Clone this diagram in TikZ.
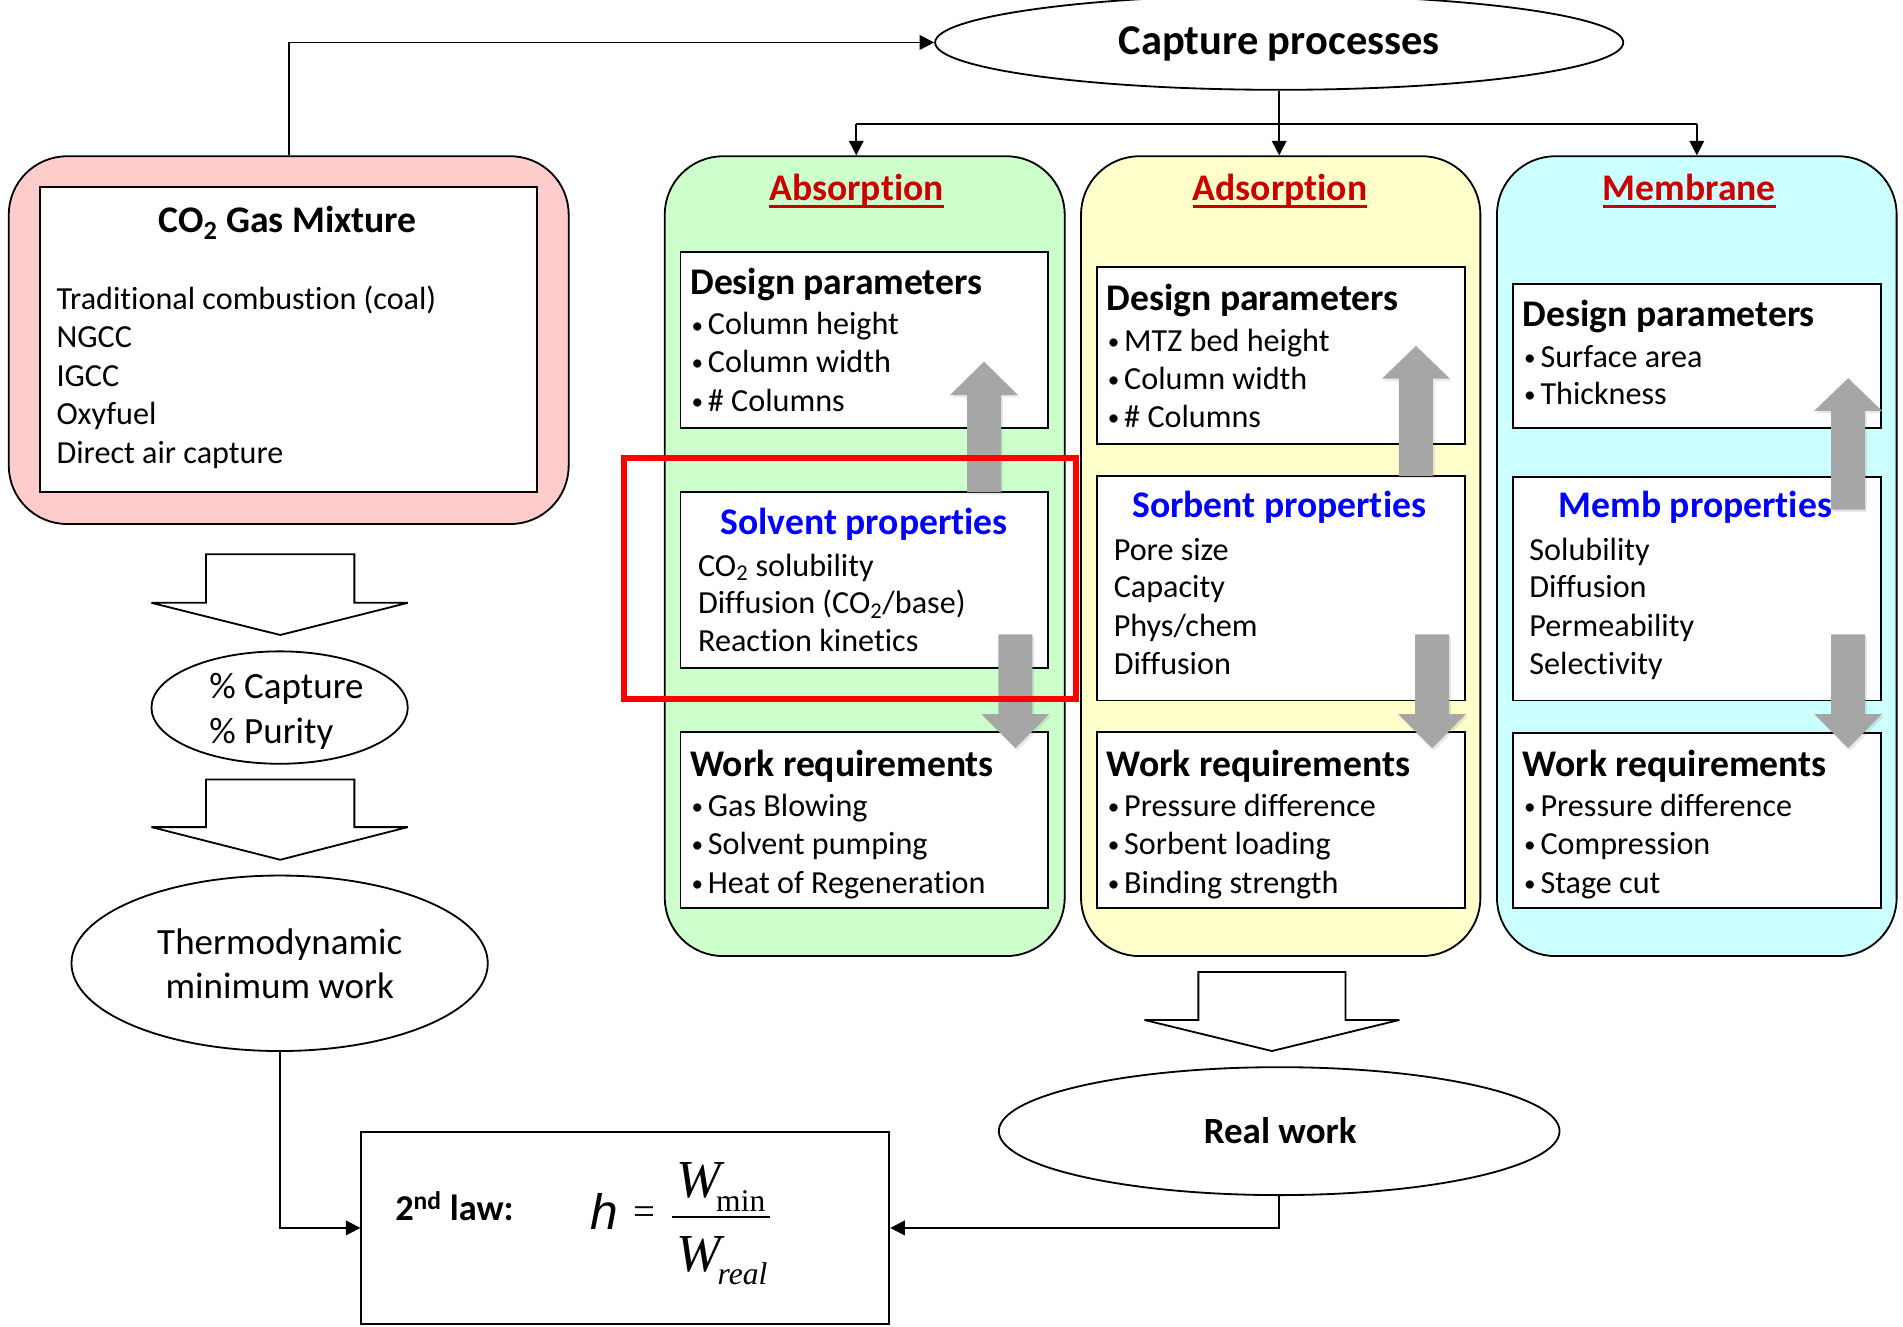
\documentclass[tikz,border=0pt]{standalone}
\usepackage{fontspec}
\usepackage{graphicx}
\setmainfont{Carlito}[Ligatures=NoCommon]
\newfontfamily\timesfont{Liberation Serif}
\newfontfamily\etafont{Liberation Sans}
\usetikzlibrary{arrows.meta,calc,shapes.geometric,shadows}

\definecolor{pinkfill}{RGB}{255,204,204}
\definecolor{greenfill}{RGB}{204,255,204}
\definecolor{yellowfill}{RGB}{255,255,204}
\definecolor{cyanfill}{RGB}{204,255,255}
\definecolor{titlered}{RGB}{204,0,0}
\definecolor{propblue}{RGB}{0,0,255}
\definecolor{arrowgray}{RGB}{166,166,166}
\definecolor{markred}{RGB}{255,0,0}

\newcommand\bodysize{\fontsize{26.5}{31}\selectfont}
\newcommand\headsize{\fontsize{31}{37}\selectfont\bfseries}
\newcommand\ovalsize{\fontsize{30.5}{36}\selectfont}
\newcommand\bul[1]{\makebox[14.5pt][l]{\hspace{1pt}\raisebox{0.06em}{\scalebox{0.72}{•}}}#1}

\begin{document}
\begin{tikzpicture}[x=1pt,y=-1pt,
  panel/.style={draw=black,line width=1.5pt,rounded corners=48pt,inner sep=0pt,anchor=north west},
  wbox/.style={draw=black,fill=white,line width=1.5pt,inner sep=0pt,anchor=north west},
  oval/.style={ellipse,draw=black,fill=white,line width=1.5pt,inner sep=0pt},
  conn/.style={line width=1.5pt,-{Triangle[length=12pt,width=12pt]}},
  wire/.style={line width=1.5pt},
  hollow/.style={draw=black,fill=white,line width=1.5pt,line join=miter,miter limit=2},
  grayarrow/.style={fill=arrowgray,drop shadow={shadow xshift=1.5pt,shadow yshift=-2pt,opacity=0.18}},
  body/.style={font=\bodysize,anchor=base west,inner sep=0pt},
  head/.style={font=\headsize,anchor=base west,inner sep=0pt},
  prop/.style={font=\headsize,text=propblue,anchor=base,inner sep=0pt},
  title/.style={font=\headsize,text=titlered,anchor=base,inner sep=0pt},
  ovaltext/.style={font=\ovalsize,inner sep=0pt},
  mathtext/.style={anchor=base west,inner sep=0pt},
]
\clip (0,0) rectangle (1568,1093);
\fill[white] (0,0) rectangle (1568,1093);

% ---------- top ellipse ----------
\node[oval,minimum width=567pt,minimum height=78pt] (capture) at (1054,35) {};
\node[font=\fontsize{35}{40}\selectfont\bfseries,anchor=base,inner sep=0pt] (capturetxt) at (1054,45.3) {Capture processes};

% ---------- gas mixture panel ----------
\node[panel,fill=pinkfill,minimum width=461.3pt,minimum height=303pt] (co2) at (6.5,128) {};
\node[wbox,minimum width=409.3pt,minimum height=251pt] (co2in) at (32.5,153.6) {};
\node[head,anchor=base] (co2title) at (237,191.4) {CO\textsubscript{2} Gas Mixture};
\foreach \y/\t [count=\i] in {254.6/{Traditional combustion (coal)},286/NGCC,318.4/IGCC,349.6/Oxyfuel,381.6/{Direct air capture}}
  \node[body] (co2item\i) at (46.4,\y) {\t};

% ---------- process panels ----------
\node[panel,fill=greenfill,minimum width=329.5pt,minimum height=659pt] (absorb) at (547,128) {};
\node[panel,fill=yellowfill,minimum width=329pt,minimum height=659pt] (adsorb) at (890,128) {};
\node[panel,fill=cyanfill,minimum width=329.3pt,minimum height=659pt] (membr) at (1232.7,128) {};

% titles
\foreach \n/\x/\t in {abstitle/705.8/Absorption,adstitle/1054.7/Adsorption,memtitle/1392/Membrane}{
  \node[title] (\n) at (\x,165.5) {\t};
  \draw[titlered,line width=2.8pt] ($(\n.base west)+(0,4.6)$) -- ($(\n.base east)+(0,4.6)$);
}

% absorption column
\node[wbox,minimum width=302.7pt,minimum height=145pt] (absdes) at (560,207) {};
\node[wbox,minimum width=302.7pt,minimum height=144.9pt] (abssol) at (560,404.7) {};
\node[wbox,minimum width=302.7pt,minimum height=144.9pt] (abswork) at (560,602.5) {};
\node[head] (absdeshd) at (568.6,243) {Design parameters};
\foreach \y/\t [count=\i] in {276/{Column height},307/{Column width},338.7/{\# Columns}}
  \node[body] (absdes\i) at (568.6,\y) {\bul{\t}};
\node[prop] (abssolhd) at (712,440) {Solvent properties};
\foreach \y/\t [count=\i] in {474.7/{CO\textsubscript{2} solubility},505.8/{Diffusion (CO\textsubscript{2}/base)},537/{Reaction kinetics}}
  \node[body] (abssol\i) at (575,\y) {\t};
\node[head] (absworkhd) at (568.6,639.5) {Work requirements};
\foreach \y/\t [count=\i] in {672.4/{Gas Blowing},703.7/{Solvent pumping},735.8/{Heat of Regeneration}}
  \node[body] (abswork\i) at (568.6,\y) {\bul{\t}};

% adsorption column
\node[wbox,minimum width=303pt,minimum height=145.6pt] (adsdes) at (903,219.4) {};
\node[wbox,minimum width=303pt,minimum height=185pt] (adssorb) at (903,391.4) {};
\node[wbox,minimum width=303pt,minimum height=144.9pt] (adswork) at (903,602.5) {};
\node[head] (adsdeshd) at (911.6,255.6) {Design parameters};
\foreach \y/\t [count=\i] in {289.4/{MTZ bed height},321/{Column width},352/{\# Columns}}
  \node[body] (adsdes\i) at (911.6,\y) {\bul{\t}};
\node[prop] (adssorbhd) at (1054,426) {Sorbent properties};
\foreach \y/\t [count=\i] in {461.5/{Pore size},492.5/{Capacity},524.4/{Phys/chem},555.4/{Diffusion}}
  \node[body] (adssorb\i) at (917.5,\y) {\t};
\node[head] (adsworkhd) at (911.6,639.5) {Work requirements};
\foreach \y/\t [count=\i] in {672.4/{Pressure difference},703.7/{Sorbent loading},735.8/{Binding strength}}
  \node[body] (adswork\i) at (911.6,\y) {\bul{\t}};

% membrane column
\node[wbox,minimum width=303.4pt,minimum height=119pt] (memdes) at (1245.6,233) {};
\node[wbox,minimum width=303.4pt,minimum height=184.4pt] (memprop) at (1245.6,392) {};
\node[wbox,minimum width=303.4pt,minimum height=144.4pt] (memwork) at (1245.6,603) {};
\node[head] (memdeshd) at (1254.6,269.3) {Design parameters};
\foreach \y/\t [count=\i] in {303/{Surface area},333.6/{Thickness}}
  \node[body] (memdes\i) at (1254.6,\y) {\bul{\t}};
\node[prop] (memprophd) at (1397,426) {Memb properties};
\foreach \y/\t [count=\i] in {461.5/{Solubility},492.5/{Diffusion},524.4/{Permeability},555.4/{Selectivity}}
  \node[body] (memprop\i) at (1260,\y) {\t};
\node[head] (memworkhd) at (1254.6,639.5) {Work requirements};
\foreach \y/\t [count=\i] in {672.4/{Pressure difference},703.7/{Compression},735.8/{Stage cut}}
  \node[body] (memwork\i) at (1254.6,\y) {\bul{\t}};

% gray flow arrows inside the columns
\foreach \cx/\tip/\hb/\sb in {810.8/298/325.5/405.5,1166.7/285/312/392,1522.8/311.6/338.6/420}
  \fill[grayarrow] (\cx-14,\sb) -- (\cx-14,\hb) -- (\cx-28,\hb) -- (\cx,\tip) -- (\cx+28,\hb) -- (\cx+14,\hb) -- (\cx+14,\sb) -- cycle;
\foreach \cx in {836.7,1180,1522.8}
  \fill[grayarrow] (\cx-14,522.6) -- (\cx-14,588.3) -- (\cx-28,588.3) -- (\cx,616.5) -- (\cx+28,588.3) -- (\cx+14,588.3) -- (\cx+14,522.6) -- cycle;

% highlight frame
\draw[markred,line width=4.7pt] (514,377.5) rectangle (886.5,575.7);

% ---------- left chain ----------
\node[oval,minimum width=211.2pt,minimum height=92.6pt] (purity) at (230.4,583) {};
\node[ovaltext,anchor=base west] (purity1) at (172.3,575.8) {\% Capture};
\node[ovaltext,anchor=base west] (purity2) at (172.3,612.8) {\% Purity};
\node[oval,minimum width=343pt,minimum height=144.6pt] (thermo) at (230.4,793.7) {};
\node[ovaltext,anchor=base] (thermo1) at (230.5,786.6) {Thermodynamic};
\node[ovaltext,anchor=base] (thermo2) at (230.5,822.7) {minimum work};

\path[hollow] (169.8,456.7) -- (292,456.7) -- (292,496.7) -- (336,496.7) -- (230.9,523.2) -- (124.8,496.7) -- (169.8,496.7) -- cycle;
\path[hollow] (169.8,642.3) -- (292,642.3) -- (292,681.5) -- (336,681.5) -- (230.9,708.4) -- (124.8,681.5) -- (169.8,681.5) -- cycle;

% ---------- bottom ----------
\node[oval,minimum width=462pt,minimum height=105.4pt] (real) at (1054,932) {};
\node[ovaltext,font=\ovalsize\bfseries,anchor=base] (realtxt) at (1054.8,941.8) {Real work};
\path[hollow] (987.4,800.9) -- (1108.6,800.9) -- (1108.6,840.4) -- (1153,840.4) -- (1048,866) -- (943,840.4) -- (987.4,840.4) -- cycle;

\node[wbox,minimum width=435pt,minimum height=158pt] (law) at (297,932) {};
\node[font=\fontsize{30}{36}\selectfont\bfseries,anchor=base west,inner sep=0pt] (lawlbl) at (325.5,1005.8) {2\textsuperscript{nd} law:};
\node[mathtext,font=\etafont\itshape\fontsize{41}{41}\selectfont] (eta) at (486,1013) {h};
\node[mathtext,font=\timesfont\fontsize{32}{32}\selectfont] (eq) at (522,1009) {=};
\node[mathtext,font=\timesfont\fontsize{44}{44}\selectfont] (wnum) at (557,987)
  {\itshape W\kern-3.7pt\raisebox{-11.5pt}{\fontsize{26}{26}\selectfont\upshape min}};
\node[mathtext,font=\timesfont\fontsize{44}{44}\selectfont] (wden) at (557,1048)
  {\itshape W\kern-2.5pt\raisebox{-10.5pt}{\fontsize{26}{26}\selectfont real}};
\draw[line width=1.5pt] (554,1003) -- (634.5,1003);

% ---------- connectors ----------
\coordinate (busL) at (705.5,102);
\coordinate (busR) at (membr.north |- busL);
\draw[conn] (co2.north) |- (capture.west);
\draw[wire] (busL) -- (busR);
\draw[conn] (capture.south) -- (capture.south |- adsorb.north);
\draw[conn] (busL) -- (busL |- absorb.north);
\draw[conn] (busR) -- (membr.north);
\draw[conn] (thermo.south) |- (law.west);
\draw[conn] (real.south) |- (law.east);
\end{tikzpicture}
\end{document}
